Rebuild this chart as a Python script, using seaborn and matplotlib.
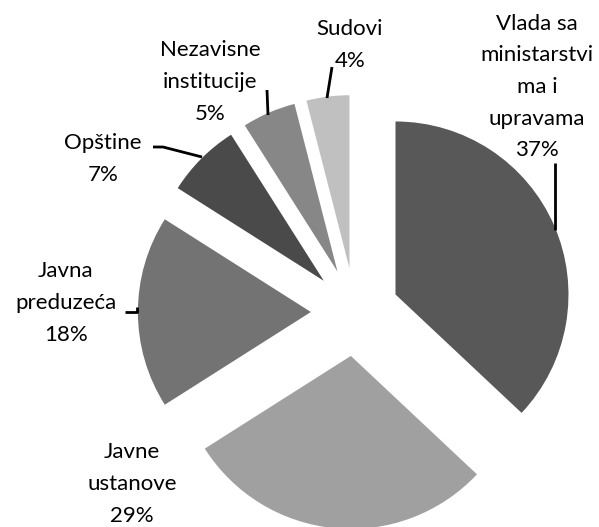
import matplotlib
matplotlib.use("Agg")
import matplotlib.pyplot as plt
import seaborn as sns

sns.set_theme(style="white")
plt.rcParams['font.family'] = ['Lato', 'DejaVu Sans']

categories = ['Vlada sa\nministarstvi\nma i\nupravama', 'Javne\nustanove',
              'Javna\npreduzeća', 'Opštine', 'Nezavisne\ninstitucije', 'Sudovi']
shares = [37, 29, 18, 7, 5, 4]
colors = ['#585858', '#a0a0a0', '#737373', '#4a4a4a', '#878787', '#c0c0c0']

W, H = 599, 527
R = 173
fig = plt.figure(figsize=(W / 100, H / 100), dpi=100)
ax = fig.add_axes([0, 0, 1, 1])

# pie explode is in data units, so scale by radius (25% explosion)
ax.pie(shares, colors=colors, startangle=90, counterclock=False,
       explode=[0.255 * R] * len(shares), center=(355, H - 312), radius=R,
       wedgeprops=dict(linewidth=0), frame=True)
ax.set_xlim(0, W)
ax.set_ylim(0, H)
ax.set_aspect('equal')
ax.axis('off')

# label positions (pixel coords, y from top)
label_pos = [(537, 87), (132, 484), (66, 303), (103, 159), (210, 82), (350, 45)]
for name, val, (px, py) in zip(categories, shares, label_pos):
    ax.text(px, H - py, f'{name}\n{val}%', ha='center', va='center',
            fontsize=16, linespacing=1.72, color='black')

# leader lines
leaders = [
    [(555, 163), (555, 230)],
    [(125, 312), (137, 312), (137, 307)],
    [(153, 147), (163, 147), (202, 157)],
    [(267, 90), (268, 115)],
    [(332, 67), (327, 98)],
]
for pts in leaders:
    ax.plot([p[0] for p in pts], [H - p[1] for p in pts], color='black', lw=2,
            solid_capstyle='butt')

fig.savefig('out.png', dpi=100)
